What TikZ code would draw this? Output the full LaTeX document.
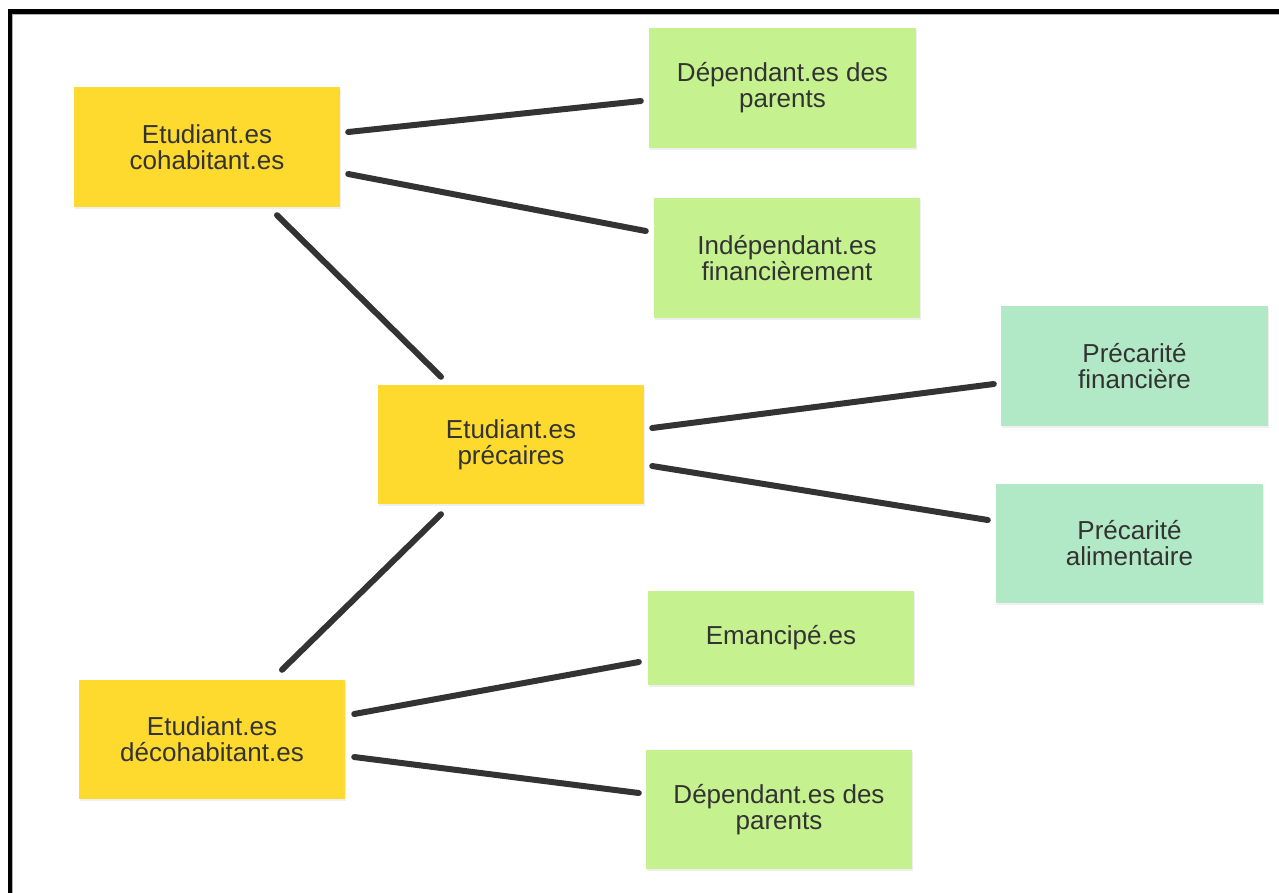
\documentclass[tikz,border=0pt]{standalone}
\usepackage{fontspec}
\setmainfont{Liberation Sans}
\usetikzlibrary{shadows}
\definecolor{ylw}{HTML}{FED92E}
\definecolor{grn}{HTML}{C5F18E}
\definecolor{mint}{HTML}{B1E8C5}
\definecolor{ink}{HTML}{333333}
\tikzset{
  card/.style={minimum width=266pt, minimum height=120pt, inner sep=0pt, align=center,
    text=ink, font=\fontsize{26}{26}\selectfont,
    drop shadow={opacity=0.12, shadow xshift=1pt, shadow yshift=-2pt}},
  ycard/.style={card, fill=ylw},
  gcard/.style={card, fill=grn},
  mcard/.style={card, fill=mint},
  link/.style={draw=ink, line width=6pt, line cap=round},
  frame/.style={draw=black, line width=5pt}
}
\begin{document}
\begin{tikzpicture}[x=1pt,y=-1pt]
\useasboundingbox[fill=white] (0,0) rectangle (1279,892);
\coordinate (fa) at (10,900);
\coordinate (fb) at (10,11.5);
\coordinate (fc) at (1290,11.5);
\draw[frame] (fa) -- (fb) -- (fc);
\draw[gray!60, line width=1pt] (12.5,900) -- (12.5,14.5) -- (1290,14.5);

\node[ycard] (coh) at (207,147) {Etudiant.es\\cohabitant.es};
\node[gcard, minimum width=267pt] (dep1) at (782.5,88) {Dépendant.es des\\parents};
\node[gcard] (indep) at (787,258) {Indépendant.es\\financièrement};
\node[mcard, minimum width=267pt] (pfin) at (1134.5,366) {Précarité\\financière};
\node[ycard, minimum height=119pt] (prec) at (511,444.5) {Etudiant.es\\précaires};
\node[mcard, minimum width=267pt, minimum height=119pt] (palim) at (1129.5,543.5) {Précarité\\alimentaire};
\node[gcard, minimum height=94pt] (eman) at (781,637.5) {Emancipé.es};
\node[ycard, minimum height=119pt] (decoh) at (212,739.5) {Etudiant.es\\décohabitant.es};
\node[gcard, minimum height=119pt] (dep2) at (779,809.5) {Dépendant.es des\\parents};

\draw[link] ([shift={(8,-15)}]coh.east) -- ([shift={(-8,13)}]dep1.west);
\draw[link] ([shift={(8,27)}]coh.east) -- ([shift={(-8,-27)}]indep.west);
\draw[link] ([shift={(70,8)}]coh.south) -- ([shift={(-70,-8)}]prec.north);
\draw[link] ([shift={(8,-16.5)}]prec.east) -- ([shift={(-7,18)}]pfin.west);
\draw[link] ([shift={(8,21.5)}]prec.east) -- ([shift={(-8,-23.5)}]palim.west);
\draw[link] ([shift={(-70,10)}]prec.south) -- ([shift={(70,-10)}]decoh.north);
\draw[link] ([shift={(9,-25.5)}]decoh.east) -- ([shift={(-9,24.5)}]eman.west);
\draw[link] ([shift={(9,17.5)}]decoh.east) -- ([shift={(-7,-16.5)}]dep2.west);
\end{tikzpicture}
\end{document}
